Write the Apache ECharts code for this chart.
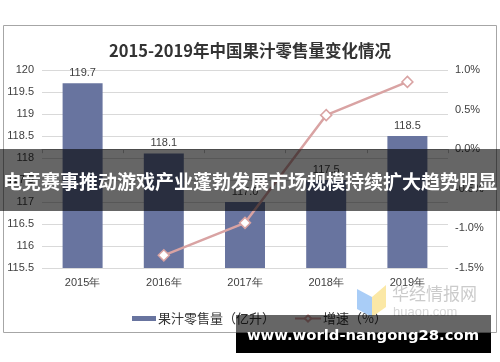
<!DOCTYPE html>
<html>
<head>
<meta charset="utf-8">
<script src="https://cdn.jsdelivr.net/npm/echarts@6/dist/echarts.min.js"></script>
<style>
html,body{margin:0;padding:0;background:#fff;}
#c{width:500px;height:362px;}
</style>
</head>
<body>
<div id="c"></div>
<script>
var categories = ['2015年', '2016年', '2017年', '2018年', '2019年'];
var salesValues = [119.7, 118.1, 117.0, 117.5, 118.5];
var growthValues = [null, -1.34, -0.93, 0.43, 0.85];
var leftTicks = {min: 115.5, max: 120, interval: 0.5};
var rightTicks = {min: -1.5, max: 1.0, interval: 0.5};
var titleText = '2015-2019年中国果汁零售量变化情况';
var salesName = '果汁零售量（亿升）';
var growthName = '增速（%）';
var bannerText = '电竞赛事推动游戏产业蓬勃发展市场规模持续扩大趋势明显';
var footerText = 'www.world-nangong28.com';

var chart = echarts.init(document.getElementById('c'), null, {renderer: 'canvas'});
var sans = 'Liberation Sans, Arial, sans-serif';
var cjk = 'Noto Sans CJK SC, sans-serif';
var barColor = '#68749f';
var lineColor = '#d9a3a3';

chart.setOption({
  animation: false,
  title: {
    text: titleText,
    left: 'center',
    top: 37,
    textStyle: {fontSize: 16.5, fontWeight: 'bold', color: '#333', fontFamily: cjk}
  },
  legend: [{
    data: [{name: salesName, icon: 'rect'}],
    left: 127, top: 307,
    itemWidth: 24, itemHeight: 5, itemGap: 2,
    textStyle: {fontSize: 13, color: '#333', fontFamily: cjk, padding: [0,0,0,-3]}
  }, {
    data: [{name: growthName}],
    left: 289, top: 307,
    itemWidth: 26, itemHeight: 8, itemGap: 2,
    textStyle: {fontSize: 13, color: '#333', fontFamily: cjk, padding: [0,0,0,-3]}
  }],
  grid: {left: 42, right: 52, top: 70, bottom: 94},
  xAxis: {
    type: 'category',
    data: categories,
    axisLine: {lineStyle: {color: '#bfbfbf'}},
    axisTick: {show: true, length: 4, lineStyle: {color: '#bfbfbf'}},
    axisLabel: {fontSize: 11, color: '#404040', fontFamily: sans, margin: 9}
  },
  yAxis: [{
    type: 'value',
    min: leftTicks.min, max: leftTicks.max, interval: leftTicks.interval,
    axisLine: {show: false}, axisTick: {show: false},
    splitLine: {lineStyle: {color: '#d9d9d9'}},
    axisLabel: {fontSize: 11, color: '#404040', fontFamily: sans, margin: 8,
      formatter: function(v){ return (Math.round(v*10)/10).toString(); }}
  }, {
    type: 'value',
    min: rightTicks.min, max: rightTicks.max, interval: rightTicks.interval,
    axisLine: {show: false}, axisTick: {show: false},
    splitLine: {show: false},
    axisLabel: {fontSize: 11, color: '#404040', fontFamily: sans, margin: 7,
      formatter: function(v){ return v.toFixed(1) + '%'; }}
  }],
  series: [{
    name: salesName,
    type: 'bar',
    data: salesValues,
    barWidth: 40,
    itemStyle: {color: barColor},
    label: {show: true, position: 'top', fontSize: 11, color: '#404040', fontFamily: sans, distance: 5,
      formatter: function(p){ return p.value.toFixed(1); }},
    z: 2
  }, {
    name: growthName,
    type: 'line',
    yAxisIndex: 1,
    data: growthValues,
    symbol: 'diamond',
    symbolSize: 11,
    lineStyle: {color: lineColor, width: 2.5},
    itemStyle: {color: '#fff', borderColor: lineColor, borderWidth: 1.5},
    z: 3
  }],
  graphic: [
    {type: 'rect', shape: {x: 3.5, y: 25.5, width: 493, height: 307}, style: {fill: 'none', stroke: '#a6a6a6', lineWidth: 1}, z: 1, silent: true},
    {type: 'polygon', shape: {points: [[357,289],[372,297],[372,317],[357,309]]}, style: {fill: '#a9cdf7'}, z: 5},
    {type: 'polygon', shape: {points: [[372,297],[386,285],[386,307],[372,317]]}, style: {fill: '#fbe8a6'}, z: 5},
    {type: 'text', x: 392, y: 285, style: {text: '华经情报网', fontSize: 17, fontFamily: cjk, fill: '#cbcbcb'}, z: 5},
    {type: 'text', x: 393, y: 306, style: {text: 'huaon.com', fontSize: 13, fontFamily: sans, fill: '#d6d6d6'}, z: 5},
    {type: 'rect', shape: {x: 0, y: 149, width: 500, height: 62}, style: {fill: 'rgba(0,0,0,0.6)'}, z: 100},
    {type: 'text', x: 250, y: 182, style: {text: bannerText, fontSize: 19, fontWeight: 'bold', fontFamily: cjk, fill: '#fff', align: 'center', verticalAlign: 'middle'}, z: 101},
    {type: 'rect', shape: {x: 236, y: 315, width: 255, height: 18}, style: {fill: 'rgba(0,0,0,0.6)'}, z: 100},
    {type: 'rect', shape: {x: 236, y: 333, width: 255, height: 20}, style: {fill: '#000'}, z: 100},
    {type: 'text', x: 363, y: 336, style: {text: footerText, fontSize: 14.8, fontWeight: 'bold', fontFamily: 'DejaVu Sans, sans-serif', fill: '#fff', align: 'center', verticalAlign: 'middle'}, z: 101}
  ]
});
</script>
</body>
</html>
